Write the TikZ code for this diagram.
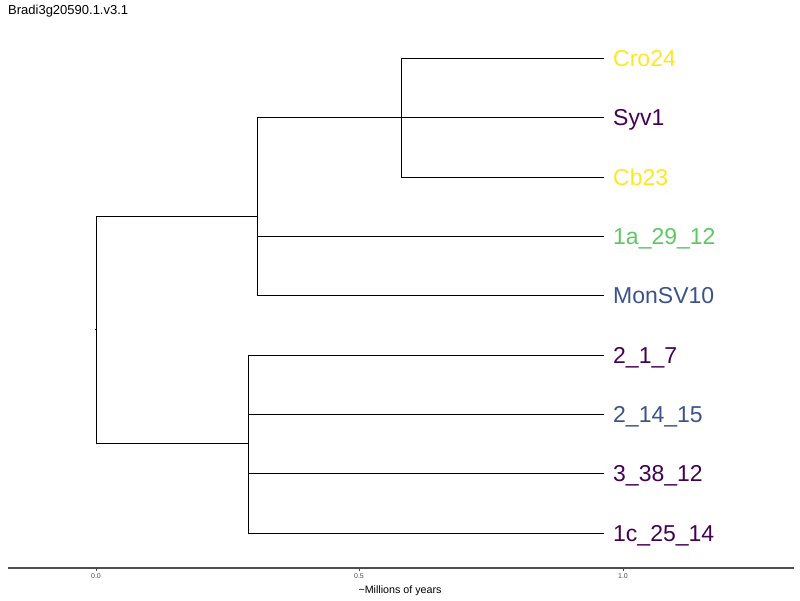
\documentclass[tikz,border=0pt]{standalone}
\usepackage{fontspec}
\setmainfont{Liberation Sans}
\begin{document}
\definecolor{vdark}{HTML}{440154}
\definecolor{vblue}{HTML}{3B528B}
\definecolor{vgreen}{HTML}{5DC863}
\definecolor{vyellow}{HTML}{FDE725}
\definecolor{axisgray}{HTML}{4D4D4D}
\begin{tikzpicture}[x=1pt,y=-1pt,
  branch/.style={draw=black,line width=0.9pt},
  tiplabel/.style={anchor=base west,inner sep=0pt,font=\fontsize{23}{25}\selectfont},
  ticklabel/.style={anchor=north,inner sep=0pt,text=axisgray,font=\fontsize{7}{8}\selectfont},
  axisline/.style={draw=axisgray,line width=1.1pt}]
\useasboundingbox (0,0) rectangle (800,600);
% title
\node[anchor=base west,inner sep=0pt,font=\fontsize{13}{14}\selectfont] (title) at (8,14) {Bradi3g20590.1.v3.1};
% tips
\coordinate (tCro) at (604,58);
\coordinate (tSyv) at (604,117);
\coordinate (tCb) at (604,177);
\coordinate (tOneA) at (604,236);
\coordinate (tMon) at (604,295);
\coordinate (tTwoA) at (604,355);
\coordinate (tTwoB) at (604,414);
\coordinate (tThree) at (604,473);
\coordinate (tOneC) at (604,533);
% internal nodes
\coordinate (nA) at (401,117);
\coordinate (nB) at (257,216);
\coordinate (nC) at (248,443);
\coordinate (root) at (96,329);
% tip labels
\node[tiplabel,text=vyellow] (lCro) at (613,66) {Cro24};
\node[tiplabel,text=vdark] (lSyv) at (613,125) {Syv1};
\node[tiplabel,text=vyellow] (lCb) at (613,185) {Cb23};
\node[tiplabel,text=vgreen] (lOneA) at (613,244) {1a\_29\_12};
\node[tiplabel,text=vblue] (lMon) at (613,303) {MonSV10};
\node[tiplabel,text=vdark] (lTwoA) at (613,363) {2\_1\_7};
\node[tiplabel,text=vblue] (lTwoB) at (613,422) {2\_14\_15};
\node[tiplabel,text=vdark] (lThree) at (613,481) {3\_38\_12};
\node[tiplabel,text=vdark] (lOneC) at (613,541) {1c\_25\_14};
% clade A
\path[branch] (nA |- tCro) -- (nA |- tCb);
\path[branch] (nA |- tCro) -- (tCro);
\path[branch] (nA) -- (tSyv);
\path[branch] (nA |- tCb) -- (tCb);
% clade B
\path[branch] (nB |- nA) -- (nB |- tMon);
\path[branch] (nB |- nA) -- (nA);
\path[branch] (nB |- tOneA) -- (tOneA);
\path[branch] (nB |- tMon) -- (tMon);
% clade C
\path[branch] (nC |- tTwoA) -- (nC |- tOneC);
\path[branch] (nC |- tTwoA) -- (tTwoA);
\path[branch] (nC |- tTwoB) -- (tTwoB);
\path[branch] (nC |- tThree) -- (tThree);
\path[branch] (nC |- tOneC) -- (tOneC);
% root
\path[branch] (root |- nB) -- (root |- nC);
\path[branch] (root |- nB) -- (nB);
\path[branch] (root |- nC) -- (nC);
\path[branch] (root) -- ++(-1,0);
% time axis
\coordinate (axL) at (8,568);
\coordinate (axR) at (794,568);
\path[axisline] (axL) -- (axR);
\foreach \xx/\lab/\nm in {96/0.0/k0,359/0.5/k1,623/1.0/k2}{
  \path[draw=axisgray,line width=0.6pt] (\xx,568) -- (\xx,571);
  \node[ticklabel] (\nm) at (\xx,573) {\lab};
}
\node[anchor=base,inner sep=0pt,font=\fontsize{10.7}{12}\selectfont] (axtitle) at (400,593) {\textasciitilde Millions of years};
\end{tikzpicture}
\end{document}
